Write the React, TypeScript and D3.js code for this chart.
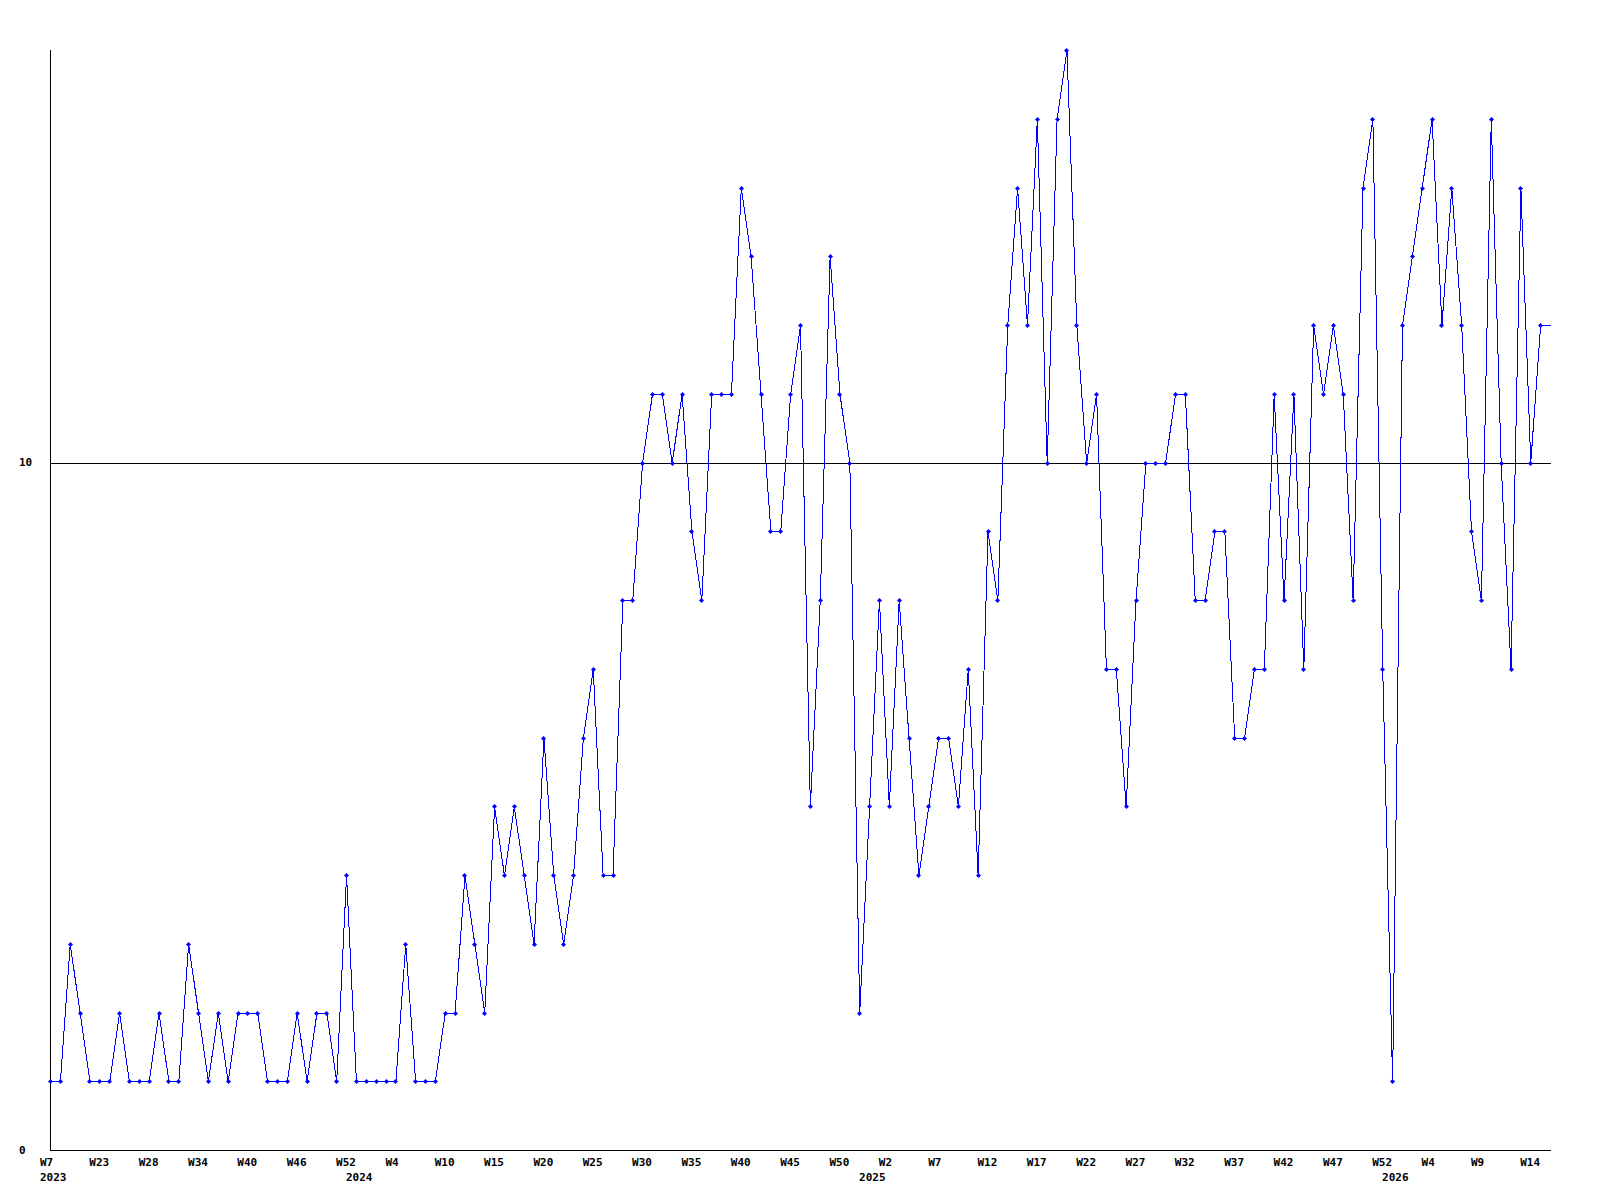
import React from "react";
import * as d3 from "d3";

// Weekly values (152 points)
const values2023: number[] = [1, 1, 3, 2, 1, 1, 1, 2, 1, 1, 1, 2, 1, 1, 3, 2, 1, 2, 1, 2, 2, 2, 1, 1, 1, 2, 1, 2, 2, 1];
const values2024: number[] = [4, 1, 1, 1, 1, 1, 3, 1, 1, 1, 2, 2, 4, 3, 2, 5, 4, 5, 4, 3, 6, 4, 3, 4, 6, 7, 4, 4, 8, 8,
  10, 11, 11, 10, 11, 9, 8, 11, 11, 11, 14, 13, 11, 9, 9, 11, 12, 5, 8, 13, 11, 10];
const values2025: number[] = [2, 5, 8, 5, 8, 6, 4, 5, 6, 6, 5, 7, 4, 9, 8, 12, 14,
  12, 15, 10, 15, 16, 12, 10, 11, 7, 7, 5, 8, 10, 10, 10, 11, 11, 8, 8, 9, 9, 6, 6, 7, 7, 11, 8, 11,
  7, 12, 11, 12, 11, 8, 14, 15, 7];
const values2026: number[] = [1, 12, 13, 14, 15, 12, 14, 12, 9, 8, 15, 10, 7, 14, 10, 12];

const values: number[] = [...values2023, ...values2024, ...values2025, ...values2026];

// Week tick labels, one every 5 points
const weekLabels: string[] = [
  "W7", "W23", "W28", "W34", "W40", "W46", "W52", "W4", "W10", "W15", "W20", "W25", "W30", "W35",
  "W40", "W45", "W50", "W2", "W7", "W12", "W17", "W22", "W27", "W32", "W37", "W42", "W47", "W52",
  "W4", "W9", "W14",
];
const weekTickStep = 5;

// Year labels and the point index they sit at
const yearLabels: string[] = ["2023", "2024", "2025", "2026"];
const yearIndex: number[] = [0, 31, 83, 136];

// Y axis labels
const yTicks: number[] = [0, 10];
const yMax = 16;

const W = 1600;
const H = 1200;
const left = 50;
const right = 1550;
const top = 50;
const bottom = 1150;

export default function App() {
  const n = values.length;
  const x = d3.scaleLinear().domain([0, n]).range([left, right]);
  const y = d3.scaleLinear().domain([0, yMax]).range([bottom, top]);

  const pts: [number, number][] = values.map((v, i) => [i, v]);
  const linePts: [number, number][] = [...pts, [n, values[n - 1]]];
  const line = d3
    .line<[number, number]>()
    .x((d) => x(d[0]) + 0.5)
    .y((d) => y(d[1]) + 0.5);

  const font = "'DejaVu Sans Mono', monospace";
  const blue = "#0000ff";

  return (
    <svg
      width={W}
      height={H}
      style={{ position: "absolute", left: 0, top: 0, background: "#fff" }}
    >
      <rect x={0} y={0} width={W} height={H} fill="#fff" />
      {/* grid line at 10 */}
      {yTicks
        .filter((t) => t > 0)
        .map((t) => (
          <line
            key={"g" + t}
            x1={x(0)}
            x2={x(n) + 1}
            y1={Math.round(y(t)) + 0.5}
            y2={Math.round(y(t)) + 0.5}
            stroke="#000"
            strokeWidth={1}
            shapeRendering="crispEdges"
          />
        ))}
      {/* axes */}
      <line
        x1={x(0) + 0.5}
        x2={x(0) + 0.5}
        y1={y(yMax)}
        y2={y(0) + 1}
        stroke="#000"
        shapeRendering="crispEdges"
      />
      <line
        x1={x(0)}
        x2={x(n) + 1}
        y1={y(0) + 0.5}
        y2={y(0) + 0.5}
        stroke="#000"
        shapeRendering="crispEdges"
      />
      {/* y labels */}
      {yTicks.map((t) => (
        <text
          key={"y" + t}
          x={19}
          y={y(t)}
          dy="0.35em"
          fontFamily={font}
          fontWeight="bold"
          fontSize={11}
          fill="#000"
        >
          {t}
        </text>
      ))}
      {/* week labels */}
      {weekLabels.map((lab, k) => (
        <text
          key={"w" + k}
          x={x(k * weekTickStep) - 10}
          y={1162}
          dy="0.35em"
          fontFamily={font}
          fontWeight="bold"
          fontSize={11}
          fill="#000"
        >
          {lab}
        </text>
      ))}
      {/* year labels */}
      {yearLabels.map((lab, k) => (
        <text
          key={"yr" + k}
          x={x(yearIndex[k]) - 10}
          y={1177}
          dy="0.35em"
          fontFamily={font}
          fontWeight="bold"
          fontSize={11}
          fill="#000"
        >
          {lab}
        </text>
      ))}
      {/* series */}
      <path
        d={line(linePts) || ""}
        fill="none"
        stroke={blue}
        strokeWidth={1}
        shapeRendering="crispEdges"
      />
      {pts.map((d, i) => {
        const cx = Math.round(x(d[0])) + 0.5;
        const cy = Math.round(y(d[1])) + 0.5;
        return (
          <path
            key={"m" + i}
            d={`M${cx - 2.5},${cy}L${cx},${cy - 2.5}L${cx + 2.5},${cy}L${cx},${cy + 2.5}Z`}
            fill={blue}
            stroke="none"
          />
        );
      })}
    </svg>
  );
}
